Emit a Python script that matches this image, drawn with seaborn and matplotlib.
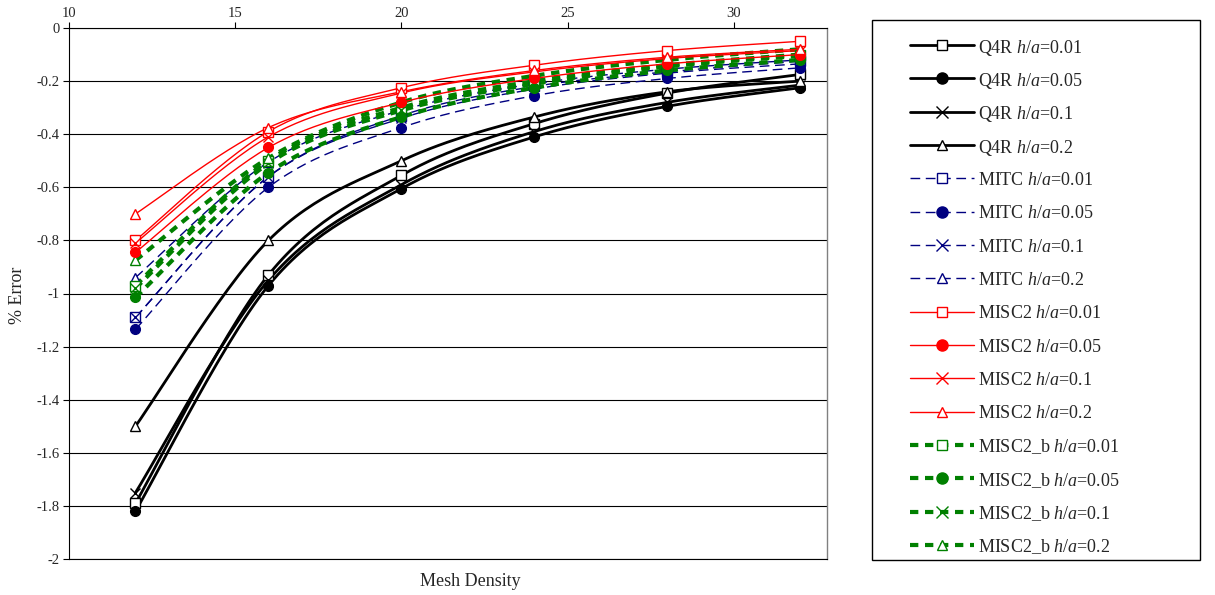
import numpy as np
import pandas as pd
import matplotlib
matplotlib.use("Agg")
import matplotlib.pyplot as plt
from matplotlib.lines import Line2D
from matplotlib.patches import Rectangle
import seaborn as sns

# ---------------- data ----------------
mesh = [12, 16, 20, 24, 28, 32]
ratios = ["0.01", "0.05", "0.1", "0.2"]

q4r_001 = [-1.79, -0.93, -0.555, -0.36, -0.245, -0.175]
q4r_005 = [-1.82, -0.97, -0.605, -0.41, -0.295, -0.225]
q4r_01 = [-1.75, -0.95, -0.59, -0.39, -0.28, -0.215]
q4r_02 = [-1.50, -0.80, -0.50, -0.335, -0.24, -0.20]

mitc_001 = [-1.09, -0.56, -0.33, -0.22, -0.165, -0.125]
mitc_005 = [-1.135, -0.60, -0.375, -0.255, -0.19, -0.15]
mitc_01 = [-1.09, -0.56, -0.34, -0.23, -0.17, -0.135]
mitc_02 = [-0.94, -0.505, -0.31, -0.21, -0.155, -0.12]

misc2_001 = [-0.80, -0.39, -0.225, -0.14, -0.085, -0.05]
misc2_005 = [-0.845, -0.45, -0.28, -0.19, -0.135, -0.10]
misc2_01 = [-0.81, -0.41, -0.245, -0.165, -0.115, -0.085]
misc2_02 = [-0.70, -0.375, -0.24, -0.16, -0.11, -0.08]

misc2b_001 = [-0.97, -0.50, -0.30, -0.20, -0.14, -0.10]
misc2b_005 = [-1.015, -0.545, -0.335, -0.225, -0.16, -0.12]
misc2b_01 = [-0.98, -0.51, -0.31, -0.21, -0.145, -0.105]
misc2b_02 = [-0.875, -0.49, -0.28, -0.18, -0.12, -0.08]

x_ticks = [10, 15, 20, 25, 30]
y_ticks = [0, -0.2, -0.4, -0.6, -0.8, -1, -1.2, -1.4, -1.6, -1.8, -2]
y_tick_labels = ["0", "-0.2", "-0.4", "-0.6", "-0.8", "-1", "-1.2", "-1.4",
                 "-1.6", "-1.8", "-2"]

# ---------------- style ----------------
sns.set_theme(style="white")
plt.rcParams["font.family"] = ["Liberation Serif", "DejaVu Serif"]
plt.rcParams["mathtext.fontset"] = "custom"
plt.rcParams["mathtext.rm"] = "Liberation Serif"
plt.rcParams["mathtext.it"] = "Liberation Serif:italic"

W, H = 1215, 595
fig = plt.figure(figsize=(W / 100, H / 100), dpi=100)
L, R, T, B = 69, 827, 28, 559
ax = fig.add_axes([L / W, 1 - B / H, (R - L) / W, (B - T) / H])
XMIN, XMAX, YMIN, YMAX = 10, 32.8, -2, 0
ax.set_xlim(XMIN, XMAX)
ax.set_ylim(YMIN, YMAX)

sx = (R - L) / (XMAX - XMIN)
sy = (B - T) / (YMAX - YMIN)


def smooth(xs, ys, n=30):
    """Excel-like smoothed line (Catmull-Rom Bezier) computed in pixel space."""
    P = np.column_stack([np.asarray(xs, float) * sx, np.asarray(ys, float) * sy])
    out = []
    m = len(P)
    for i in range(m - 1):
        p0 = P[i - 1] if i > 0 else P[i]
        p1, p2 = P[i], P[i + 1]
        p3 = P[i + 2] if i + 2 < m else P[i + 1]
        c1 = p1 + (p2 - p0) / 6
        c2 = p2 - (p3 - p1) / 6
        t = np.linspace(0, 1, n)[:, None]
        seg = ((1 - t) ** 3) * p1 + 3 * ((1 - t) ** 2) * t * c1 + 3 * (1 - t) * t ** 2 * c2 + t ** 3 * p2
        out.append(seg if i == 0 else seg[1:])
    S = np.vstack(out)
    return S[:, 0] / sx, S[:, 1] / sy


groups = [
    ("Q4R", [q4r_001, q4r_005, q4r_01, q4r_02], "black", "-", 2.0, None),
    ("MITC", [mitc_001, mitc_005, mitc_01, mitc_02], "#000080", "--", 1.0, (7, 4)),
    ("MISC2_b", [misc2b_001, misc2b_005, misc2b_01, misc2b_02], "#008000", ":", 3.0, (2.0, 1.6)),
    ("MISC2", [misc2_001, misc2_005, misc2_01, misc2_02], "red", "-", 1.0, None),
]
markers = ["s", "o", "x", "^"]
filled = [False, True, True, False]
msizes = [6.5, 7, 7, 6.5]

styles = {}
for name, series, color, ls, lw, dashes in groups:
    for k, ys in enumerate(series):
        cx, cy = smooth(mesh, ys)
        df = pd.DataFrame({"x": cx, "y": cy})
        sns.lineplot(data=df, x="x", y="y", ax=ax, sort=False, estimator=None,
                     color=color, lw=lw, legend=False)
        ln = ax.lines[-1]
        ln.set_linestyle(ls)
        if dashes is not None:
            ln.set_dashes(dashes)
        ln.set_zorder(3)
        mfc = color if filled[k] else "white"
        ms = msizes[k]
        ax.plot(mesh, ys, linestyle="none", marker=markers[k], ms=ms, mfc=mfc,
                mec=color, mew=1.0, zorder=4)
        styles[(name, k)] = (color, ls, lw, dashes, markers[k], ms, mfc)

# gridlines & axes
for yv in y_ticks:
    ax.axhline(yv, color="black", lw=0.8, zorder=1)
ax.set_xticks(x_ticks)
ax.set_xticklabels([str(v) for v in x_ticks])
ax.xaxis.tick_top()
ax.set_yticks(y_ticks)
ax.set_yticklabels(y_tick_labels)
ax.tick_params(axis="x", top=True, bottom=False, direction="out", length=4,
               width=0.8, color="black", labelsize=10.5, pad=2)
ax.tick_params(axis="y", left=True, direction="out", length=4, width=0.8,
               color="black", labelsize=10.5, pad=3)
for s in ["top", "left", "bottom"]:
    ax.spines[s].set_visible(True)
    ax.spines[s].set_color("black")
    ax.spines[s].set_linewidth(0.8)
ax.spines["right"].set_visible(True)
ax.spines["right"].set_color("#808080")
ax.spines["right"].set_linewidth(1.0)
ax.set_xlabel("")
ax.set_ylabel("")

fig.text(18 / W, 1 - 295 / H, "% Error", rotation=90, ha="center", va="center", fontsize=13)
fig.text(470 / W, 1 - 581 / H, "Mesh Density", ha="center", va="center", fontsize=13)

# legend (manual, uniform row spacing)
fig.patches.append(Rectangle((872 / W, 1 - 560 / H), 328 / W, 540 / H,
                             transform=fig.transFigure, fill=False,
                             edgecolor="black", lw=1.0))
leg_order = ["Q4R", "MITC", "MISC2", "MISC2_b"]
row = 0
for name in leg_order:
    for k, r in enumerate(ratios):
        color, ls, lw, dashes, mk, ms, mfc = styles[(name, k)]
        ypx = 45 + row * (500 / 15)
        yf = 1 - ypx / H
        seg = Line2D([910 / W, 974 / W], [yf, yf], transform=fig.transFigure,
                     color=color, lw=lw, linestyle=ls)
        if dashes is not None:
            seg.set_dashes(dashes)
        fig.add_artist(seg)
        fig.add_artist(Line2D([942 / W], [yf], transform=fig.transFigure,
                              linestyle="none", marker=mk, ms=ms + 1, mfc=mfc,
                              mec=color, mew=1.0))
        fig.text(978 / W, yf, name + r" $\it{h/a}$=" + r, ha="left",
                 va="center_baseline", fontsize=13)
        row += 1

fig.savefig("out.png", dpi=100, facecolor="white")
